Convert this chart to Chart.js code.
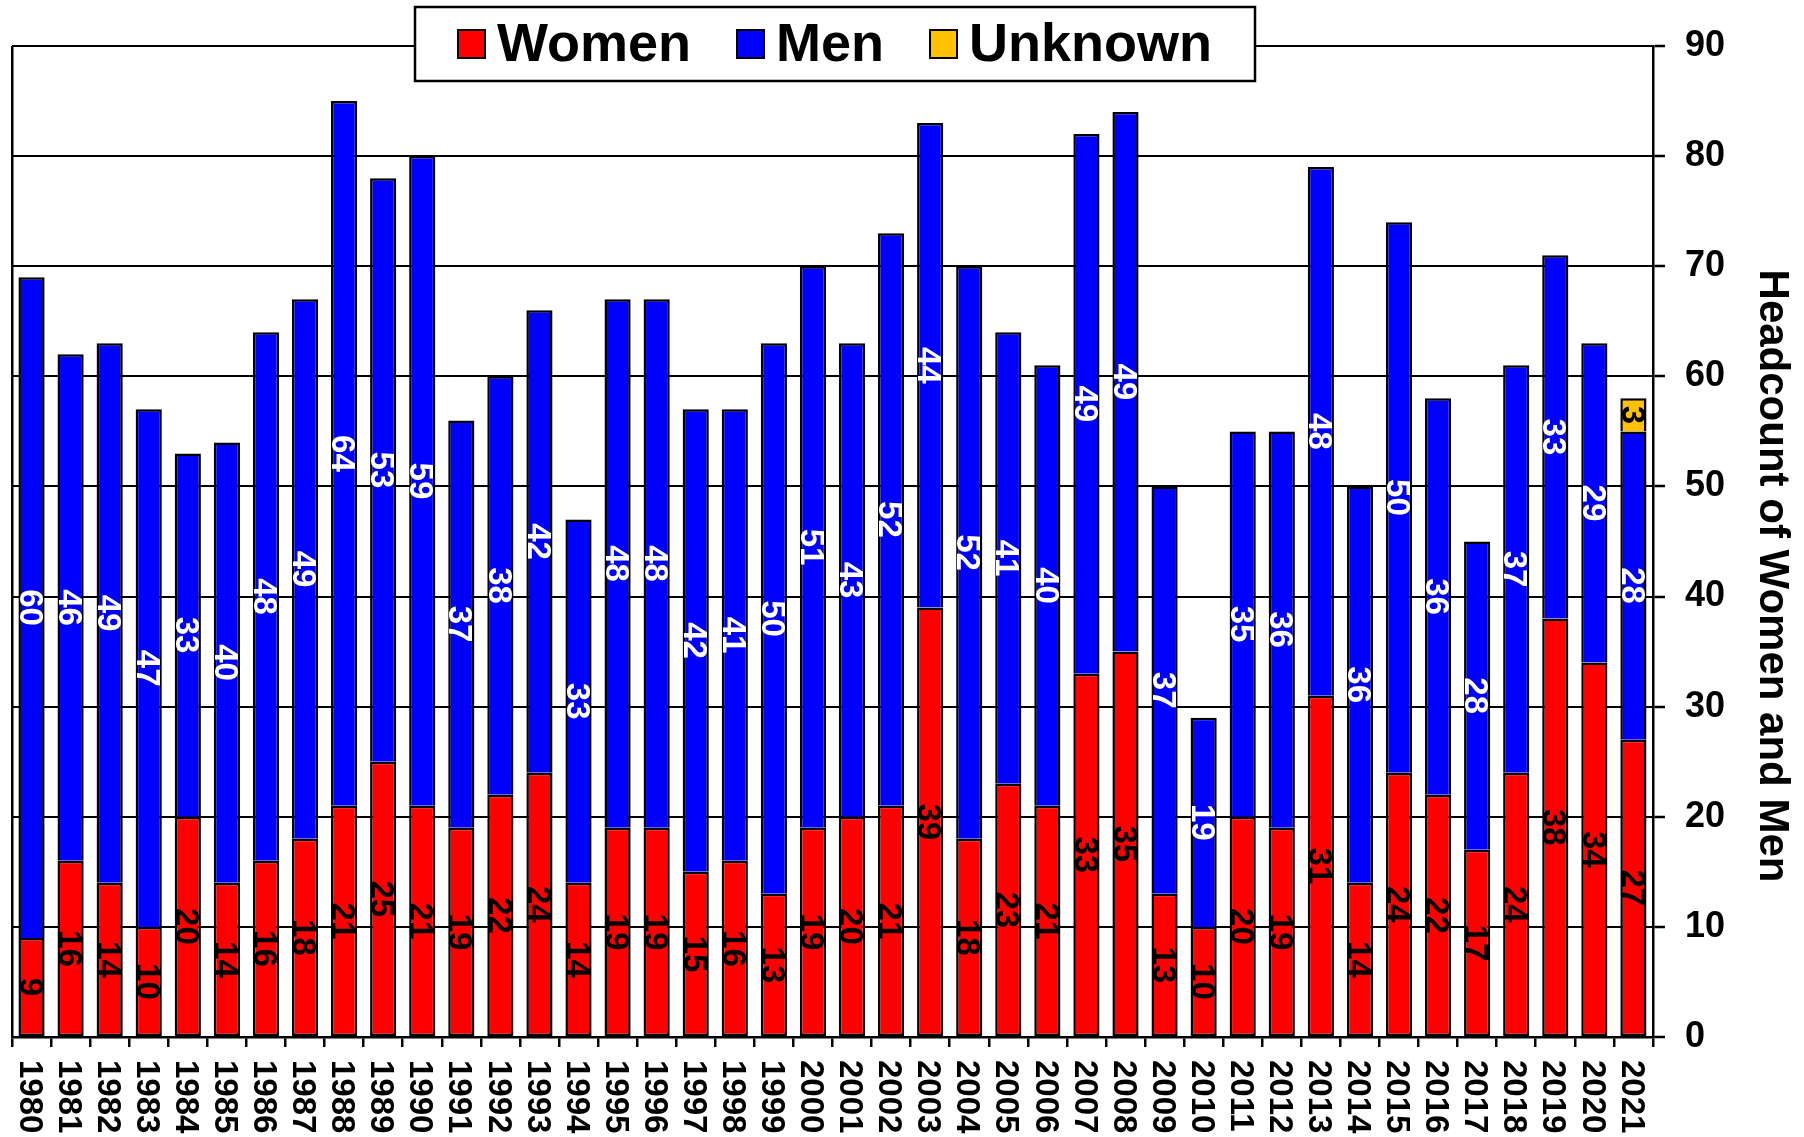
<!DOCTYPE html>
<html>
<head>
<meta charset="utf-8">
<script src="https://cdn.jsdelivr.net/npm/chart.js@4/dist/chart.umd.min.js"></script>
<style>
  html, body { margin: 0; padding: 0; background: #fff; }
  #wrap { width: 1804px; height: 1137px; }
</style>
</head>
<body>
<div id="wrap"><canvas id="myChart"></canvas></div>
<script>
const years = ['1980','1981','1982','1983','1984','1985','1986','1987','1988','1989',
  '1990','1991','1992','1993','1994','1995','1996','1997','1998','1999',
  '2000','2001','2002','2003','2004','2005','2006','2007','2008','2009',
  '2010','2011','2012','2013','2014','2015','2016','2017','2018','2019',
  '2020','2021'];
const women = [9,16,14,10,20,14,16,18,21,25, 21,19,22,24,14,19,19,15,16,13,
  19,20,21,39,18,23,21,33,35,13, 10,20,19,31,14,24,22,17,24,38, 34,27];
const men = [60,46,49,47,33,40,48,49,64,53, 59,37,38,42,33,48,48,42,41,50,
  51,43,52,44,52,41,40,49,49,37, 19,35,36,48,36,50,36,28,37,33, 29,28];
const unknown = [null,null,null,null,null,null,null,null,null,null,
  null,null,null,null,null,null,null,null,null,null,
  null,null,null,null,null,null,null,null,null,null,
  null,null,null,null,null,null,null,null,null,null,
  null,3];
const yTickValues = [0,10,20,30,40,50,60,70,80,90];
const yTitle = 'Headcount of Women and Men';

const FONT = "'Liberation Sans', Arial, Helvetica, sans-serif";
Chart.defaults.font.family = FONT;
Chart.defaults.color = '#000';

// value labels, rotated clockwise, centred in each segment
const barLabels = {
  id: 'barLabels',
  afterDatasetsDraw(chart) {
    const ctx = chart.ctx;
    const size = 33;
    chart.data.datasets.forEach((ds, di) => {
      const meta = chart.getDatasetMeta(di);
      meta.data.forEach((bar, i) => {
        const v = ds.data[i];
        if (v == null) return;
        const p = bar.getProps(['x', 'y', 'base'], true);
        ctx.save();
        ctx.translate(p.x, (p.y + p.base) / 2);
        ctx.rotate(Math.PI / 2);
        ctx.font = 'bold ' + size + 'px ' + FONT;
        ctx.fillStyle = ds.labelColor;
        ctx.textAlign = 'center';
        ctx.textBaseline = 'alphabetic';
        ctx.fillText(String(v), 0, size * 0.358);
        ctx.restore();
      });
    });
  }
};

// year labels under the axis and the axis title, both reading top to bottom
const sideTexts = {
  id: 'sideTexts',
  afterDraw(chart) {
    const ctx = chart.ctx;
    const sc = chart.scales.x;
    const size = 33;
    years.forEach((yr, i) => {
      ctx.save();
      ctx.translate(sc.getPixelForValue(i), sc.top + 23);
      ctx.rotate(Math.PI / 2);
      ctx.font = 'bold ' + size + 'px ' + FONT;
      ctx.fillStyle = '#000';
      ctx.textAlign = 'left';
      ctx.textBaseline = 'alphabetic';
      ctx.fillText(yr, 0, size * 0.358);
      ctx.restore();
    });
    const tsize = 42;
    ctx.save();
    ctx.translate(chart.width - 29, 576);
    ctx.rotate(Math.PI / 2);
    ctx.font = 'bold ' + tsize + 'px ' + FONT;
    ctx.fillStyle = '#000';
    ctx.textAlign = 'center';
    ctx.textBaseline = 'alphabetic';
    ctx.fillText(yTitle, 0, tsize * 0.358);
    ctx.restore();
  }
};

// boxed legend sitting on the top border
const boxLegend = {
  id: 'boxLegend',
  afterDraw(chart) {
    const ctx = chart.ctx;
    const bx = 415, by = 7, bw = 840, bh = 74;
    ctx.save();
    ctx.fillStyle = '#fff';
    ctx.fillRect(bx, by, bw, bh);
    ctx.lineWidth = 2.5;
    ctx.strokeStyle = '#000';
    ctx.strokeRect(bx, by, bw, bh);
    ctx.font = 'bold 54px ' + FONT;
    const sq = 27, gap = 12, spacing = 46;
    const items = chart.data.datasets.map(ds => ({
      text: ds.label, color: ds.backgroundColor, w: ctx.measureText(ds.label).width
    }));
    const total = items.reduce((s, it) => s + sq + gap + it.w, 0) + spacing * (items.length - 1);
    let x = bx + (bw - total) / 2;
    items.forEach(it => {
      ctx.fillStyle = it.color;
      ctx.fillRect(x, 30, sq, 28);
      ctx.lineWidth = 2;
      ctx.strokeRect(x, 30, sq, 28);
      ctx.fillStyle = '#000';
      ctx.textAlign = 'left';
      ctx.textBaseline = 'alphabetic';
      ctx.fillText(it.text, x + sq + gap, 61);
      x += sq + gap + it.w + spacing;
    });
    ctx.restore();
  }
};

const ctx = document.getElementById('myChart');

new Chart(ctx, {
  type: 'bar',
  data: {
    labels: years,
    datasets: [{
      label: 'Women',
      data: women,
      backgroundColor: '#FF0000',
      borderColor: '#000',
      borderWidth: 2.5,
      borderSkipped: false,
      labelColor: '#000'
    }, {
      label: 'Men',
      data: men,
      backgroundColor: '#0000FF',
      borderColor: '#000',
      borderWidth: 2.5,
      borderSkipped: 'start',
      labelColor: '#fff'
    }, {
      label: 'Unknown',
      data: unknown,
      backgroundColor: '#FFC000',
      borderColor: '#000',
      borderWidth: 2.5,
      borderSkipped: 'start',
      labelColor: '#000'
    }]
  },
  options: {
    responsive: true,
    maintainAspectRatio: false,
    animation: false,
    barPercentage: 0.67,
    categoryPercentage: 1.0,
    layout: { padding: { top: 46, left: 12, right: 59, bottom: 90 } },
    plugins: {
      legend: { display: false },
      tooltip: { enabled: false }
    },
    scales: {
      x: {
        stacked: true,
        offset: true,
        grid: {
          offset: true,
          color: c => c.index === 0 ? '#000' : 'rgba(0,0,0,0)',
          lineWidth: 2.5,
          tickLength: 10,
          tickColor: '#000',
          tickWidth: 2.5
        },
        border: { display: true, color: '#000', width: 2.5 },
        ticks: { display: false }
      },
      y: {
        stacked: true,
        position: 'right',
        min: 0,
        max: 90,
        afterBuildTicks: s => { s.ticks = yTickValues.map(v => ({ value: v })); },
        grid: { color: '#000', lineWidth: 2, tickLength: 12, tickColor: '#000', tickWidth: 2.5 },
        border: { display: true, color: '#000', width: 2.5 },
        ticks: { color: '#000', font: { size: 36, weight: 'bold' }, padding: 20 }
      }
    }
  },
  plugins: [barLabels, sideTexts, boxLegend]
});
</script>
</body>
</html>
